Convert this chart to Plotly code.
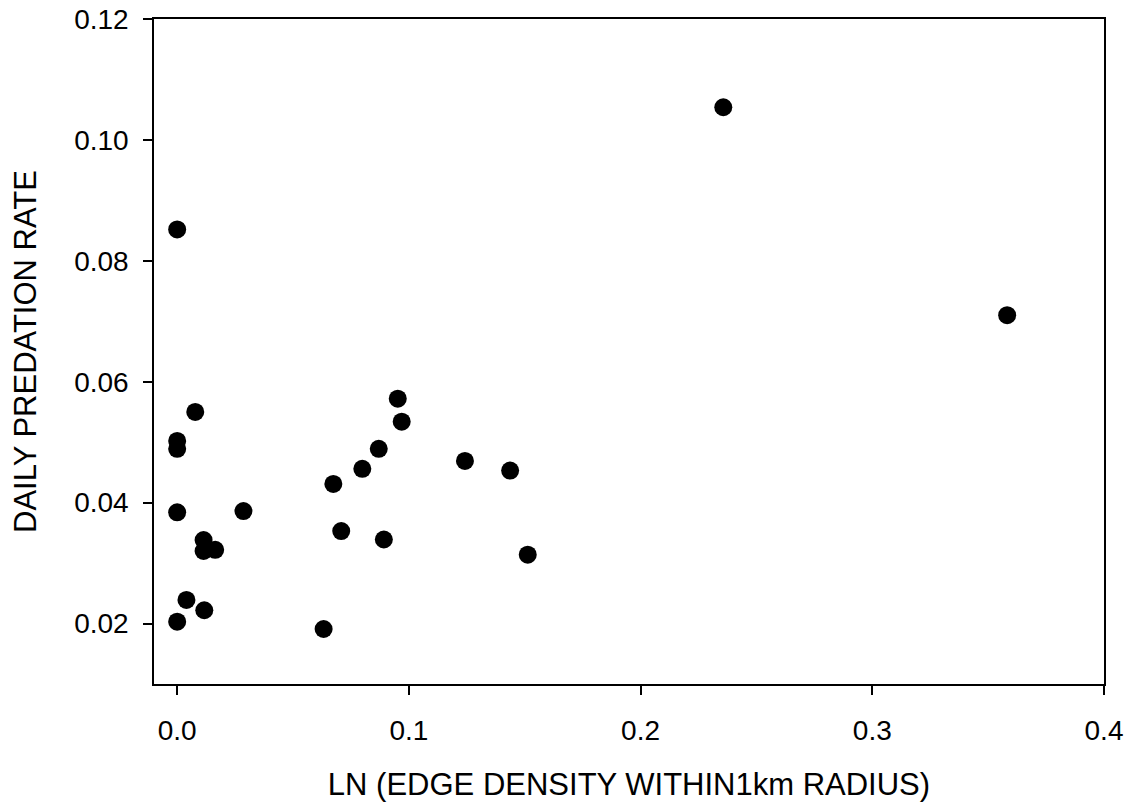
import plotly.graph_objects as go

edge_density_ln = [0.0, 0.0, 0.0, 0.0, 0.0, 0.0078, 0.0040, 0.0114, 0.0114, 0.0117,
                   0.0164, 0.0286, 0.0632, 0.0674, 0.0708, 0.0799, 0.0870, 0.0892,
                   0.0952, 0.0969, 0.1242, 0.1437, 0.1513, 0.2357, 0.3582]
predation_rate = [0.0852, 0.0502, 0.0489, 0.0384, 0.0203, 0.0550, 0.0239, 0.0338, 0.0320, 0.0222,
                  0.0322, 0.0386, 0.0191, 0.0431, 0.0353, 0.0456, 0.0489, 0.0339,
                  0.0572, 0.0534, 0.0469, 0.0453, 0.0314, 0.1054, 0.0710]

x_ticks = [0.0, 0.1, 0.2, 0.3, 0.4]
y_ticks = [0.02, 0.04, 0.06, 0.08, 0.10, 0.12]

font_family = "Liberation Sans, Arial, sans-serif"

fig = go.Figure(
    go.Scatter(
        x=edge_density_ln,
        y=predation_rate,
        mode="markers",
        marker=dict(size=18, color="black", line=dict(width=0)),
        showlegend=False,
    )
)

fig.update_layout(
    width=1135,
    height=811,
    margin=dict(l=154, r=31, t=19, b=127),
    paper_bgcolor="white",
    plot_bgcolor="white",
    font=dict(family=font_family, color="black"),
)

fig.update_xaxes(
    range=[-0.01, 0.4],
    tickvals=x_ticks,
    tickformat=".1f",
    ticks="outside",
    ticklen=9,
    tickwidth=1.5,
    tickcolor="black",
    showline=True,
    linewidth=1.5,
    linecolor="black",
    mirror=True,
    showgrid=False,
    zeroline=False,
    automargin=False,
    tickfont=dict(size=28, family=font_family),
    ticklabelstandoff=12,
    title=dict(text="LN (EDGE DENSITY WITHIN1km RADIUS)", font=dict(size=31, family=font_family), standoff=28),
)

fig.update_yaxes(
    range=[0.01, 0.12],
    tickvals=y_ticks,
    tickformat=".2f",
    ticks="outside",
    ticklen=9,
    tickwidth=1.5,
    tickcolor="black",
    showline=True,
    linewidth=1.5,
    linecolor="black",
    mirror=True,
    showgrid=False,
    zeroline=False,
    automargin=False,
    tickfont=dict(size=28, family=font_family),
    ticklabelstandoff=9,
    title=dict(text="DAILY PREDATION RATE", font=dict(size=31, family=font_family), standoff=28),
)

fig.write_html(
    "out.html",
    config={"displayModeBar": False},
    post_script="document.body.style.margin='0';document.body.style.overflow='hidden';",
)
